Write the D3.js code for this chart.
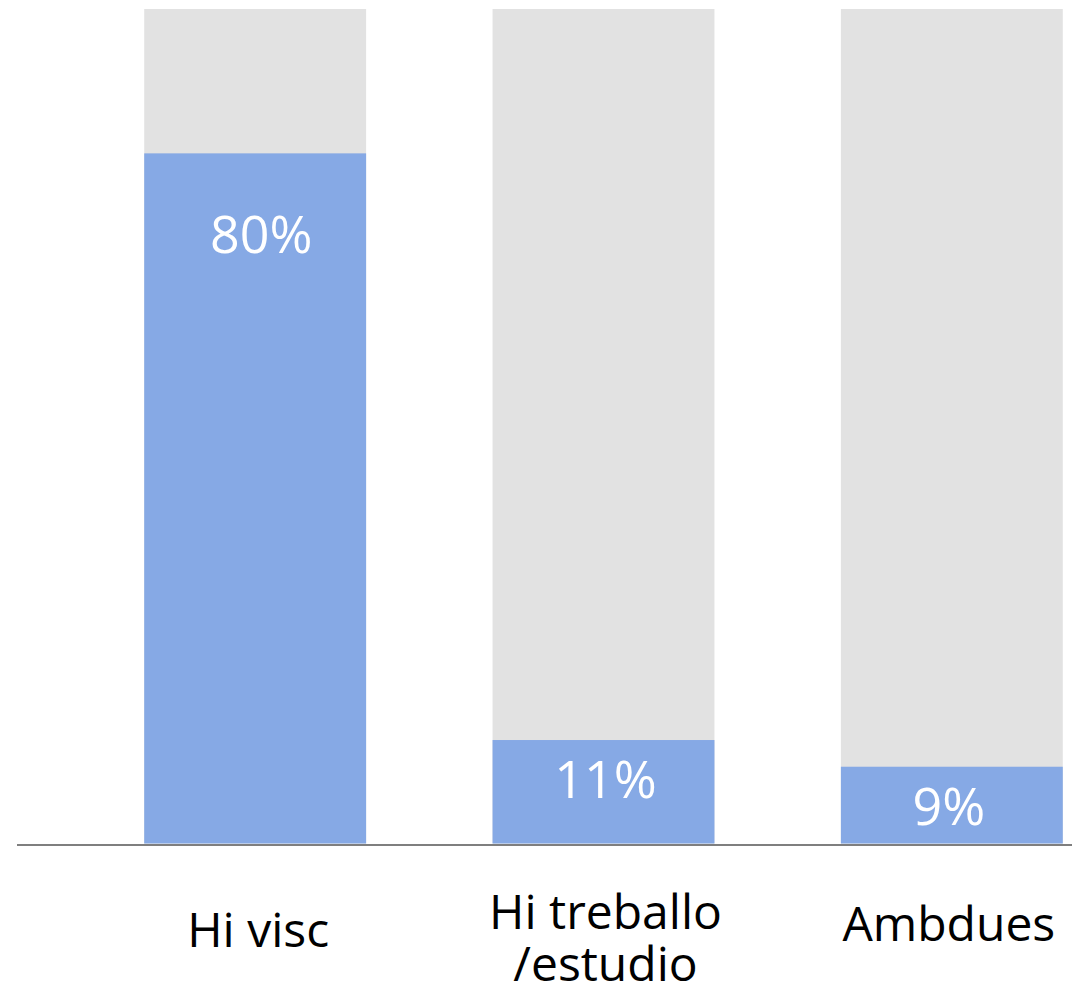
<!DOCTYPE html>
<html>
<head>
<meta charset="utf-8">
<script src="https://cdn.jsdelivr.net/npm/d3@7"></script>
<style>
  html, body { margin: 0; padding: 0; background: #fff; }
  svg { display: block; }
</style>
</head>
<body>
<script>
// ---- data ----
const categories = ["Hi visc", "Hi treballo\n/estudio", "Ambdues"];
const trackValues = [100, 100, 100];
const values = [82.7, 12.4, 9.2];           // bar heights
const valueLabels = ["80%", "11%", "9%"];    // printed labels

// ---- layout ----
const W = 1072, H = 1004;
const baseY = 843.5, topY = 9;
const svg = d3.select("body").append("svg").attr("width", W).attr("height", H);

const x = d3.scaleBand().domain(categories).range([81, 1126])
  .paddingInner(0.363).paddingOuter(0.1815);
const y = d3.scaleLinear().domain([0, 100]).range([baseY, topY]);

const font = "'Open Sans', 'Noto Sans', sans-serif";

// gray track bars
svg.append("g").selectAll("rect").data(categories).join("rect")
  .attr("x", d => x(d))
  .attr("width", x.bandwidth())
  .attr("y", (d, i) => y(trackValues[i]))
  .attr("height", (d, i) => y(0) - y(trackValues[i]))
  .attr("fill", "#E2E2E2");

// blue value bars
svg.append("g").selectAll("rect").data(categories).join("rect")
  .attr("x", d => x(d))
  .attr("width", x.bandwidth())
  .attr("y", (d, i) => y(values[i]))
  .attr("height", (d, i) => y(0) - y(values[i]))
  .attr("fill", "#86A9E5");

// value labels
const labelOffsets = [100, 58, 58];
const labelDx = [6, 2, -3];
svg.append("g").selectAll("text").data(categories).join("text")
  .attr("x", (d, i) => x(d) + x.bandwidth() / 2 + labelDx[i])
  .attr("y", (d, i) => y(values[i]) + labelOffsets[i])
  .attr("text-anchor", "middle")
  .attr("font-family", font)
  .attr("font-size", 52)
  .attr("fill", "#ffffff")
  .text((d, i) => valueLabels[i]);

// baseline axis
const axis = d3.axisBottom(x).tickSize(0).tickFormat("");
const ax = svg.append("g").attr("transform", `translate(0,${baseY + 1.5})`).call(axis);
ax.select(".domain").remove();
svg.append("line")
  .attr("x1", 17).attr("x2", W)
  .attr("y1", baseY + 1.5).attr("y2", baseY + 1.5)
  .attr("stroke", "#7f7f7f").attr("stroke-width", 2);

// category labels
const catBaselines = [947, 929, 941];
const catDx = [3, 2, -3];
const catLineGap = 52;
const lab = svg.append("g").selectAll("text").data(categories).join("text")
  .attr("x", (d, i) => x(d) + x.bandwidth() / 2 + catDx[i])
  .attr("y", (d, i) => catBaselines[i])
  .attr("text-anchor", "middle")
  .attr("font-family", font)
  .attr("font-size", 48)
  .attr("fill", "#000000");
lab.each(function(d) {
  const lines = d.split("\n");
  const t = d3.select(this);
  const cx = t.attr("x");
  lines.forEach((ln, j) => {
    t.append("tspan").attr("x", cx).attr("dy", j === 0 ? 0 : catLineGap).text(ln);
  });
});
</script>
</body>
</html>
